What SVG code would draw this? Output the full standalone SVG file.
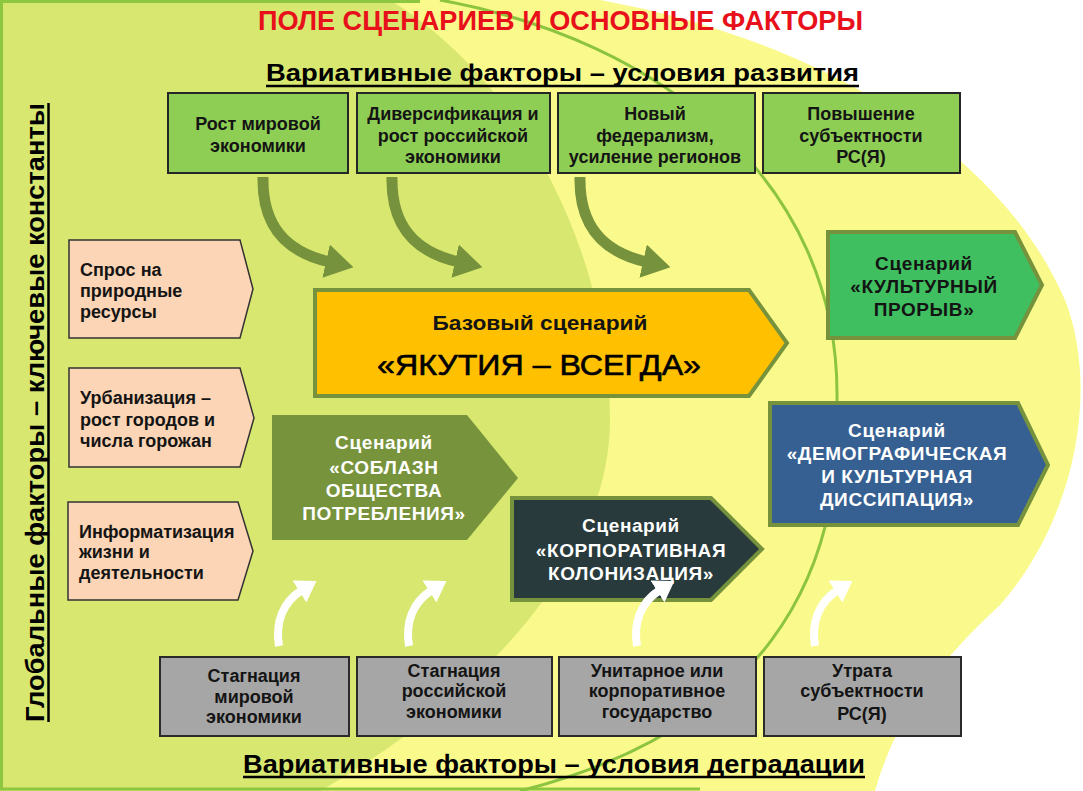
<svg xmlns="http://www.w3.org/2000/svg" width="1083" height="791" viewBox="0 0 1083 791">
<defs>
<style>
.t{font-family:"Liberation Sans",Arial,sans-serif;font-weight:bold}
.sm{font-size:18px;fill:#141414;text-anchor:middle}
.lf{font-size:18px;fill:#141414}
.sc{font-size:19px;text-anchor:middle;letter-spacing:0.6px}
.wt{fill:#ffffff}
.dk{fill:#141414}
.btop{fill:#8fce55;stroke:#262626;stroke-width:2}
.bleft{fill:#fbd5b5;stroke:#333333;stroke-width:1.5}
.bbot{fill:#a6a6a6;stroke:#2a2a2a;stroke-width:2}
.olv{stroke:#76923c;stroke-width:4}
.ul{stroke:#000;stroke-width:2.5}
.aol{fill:none;stroke:#76923c;stroke-width:11}
.awh{fill:none;stroke:#ffffff;stroke-width:8}
</style>
<marker id="ahO" markerUnits="userSpaceOnUse" viewBox="0 0 28 34" refX="4" refY="17" markerWidth="28" markerHeight="34" orient="auto"><path d="M0,0 L28,17 L0,34 Z" fill="#76923c"/></marker>
<marker id="ahW" markerUnits="userSpaceOnUse" viewBox="0 0 20 26" refX="3" refY="13" markerWidth="20" markerHeight="26" orient="auto"><path d="M0,0 L20,13 L0,26 Z" fill="#ffffff"/></marker>
</defs>

<g id="background">
<rect x="0" y="0" width="1083" height="791" fill="#ffffff"/>
<path d="M600 0 C820 40 1000 150 1065 300 C1100 390 1075 520 1000 605 C935 665 895 720 875 791 L0 791 L0 0 Z" fill="#fafa8c"/>
<path d="M0 0 L390 0 C520 80 610 250 610 420 C610 560 480 700 320 791 L0 791 Z" fill="#d7e770"/>
<path d="M420 1.5 L1.5 1.5 L1.5 789 L700 789" fill="none" stroke="#8dc63f" stroke-width="3"/>
<path d="M440 0 C660 40 840 180 837 400 C845 580 760 730 520 791" fill="none" stroke="#8cc43f" stroke-width="3"/>
</g>

<g id="titles">
<text class="t" x="258" y="30" font-size="27" fill="#e8101a" textLength="605" lengthAdjust="spacingAndGlyphs">ПОЛЕ СЦЕНАРИЕВ И ОСНОВНЫЕ ФАКТОРЫ</text>
<text class="t" x="266" y="81" font-size="23" fill="#000" textLength="593" lengthAdjust="spacingAndGlyphs">Вариативные факторы – условия развития</text>
<line class="ul" x1="266" y1="86" x2="859" y2="86"/>
<text class="t" x="243" y="773" font-size="25" fill="#000" textLength="622" lengthAdjust="spacingAndGlyphs">Вариативные факторы – условия деградации</text>
<line class="ul" x1="243" y1="777" x2="865" y2="777"/>
<text class="t" transform="translate(44,722) rotate(-90)" x="0" y="0" font-size="26" fill="#000" textLength="619" lengthAdjust="spacingAndGlyphs">Глобальные факторы – ключевые константы</text>
<line class="ul" x1="48.5" y1="103" x2="48.5" y2="722"/>
</g>

<g id="top1"><rect class="btop" x="168" y="93" width="180" height="80"/>
<text class="t sm" x="258" y="130">Рост мировой</text><text class="t sm" x="258" y="152">экономики</text></g>
<g id="top2"><rect class="btop" x="357" y="93" width="193" height="80"/>
<text class="t sm" x="453" y="120">Диверсификация и</text><text class="t sm" x="453" y="142">рост российской</text><text class="t sm" x="453" y="163">экономики</text></g>
<g id="top3"><rect class="btop" x="558" y="93" width="197" height="80"/>
<text class="t sm" x="655" y="120">Новый</text><text class="t sm" x="655" y="142">федерализм,</text><text class="t sm" x="655" y="163">усиление регионов</text></g>
<g id="top4"><rect class="btop" x="763" y="93" width="197" height="80"/>
<text class="t sm" x="861" y="120">Повышение</text><text class="t sm" x="861" y="142">субъектности</text><text class="t sm" x="861" y="163">РС(Я)</text></g>

<g id="left1"><polygon class="bleft" points="69,240 240,240 253,289 240,338 69,338"/>
<text class="t lf" x="80" y="276">Спрос на</text><text class="t lf" x="80" y="297">природные</text><text class="t lf" x="80" y="318">ресурсы</text></g>
<g id="left2"><polygon class="bleft" points="69,368 240,368 254,418 240,467 69,467"/>
<text class="t lf" x="80" y="404">Урбанизация –</text><text class="t lf" x="80" y="426">рост городов и</text><text class="t lf" x="80" y="447">числа горожан</text></g>
<g id="left3"><polygon class="bleft" points="68,502 238,502 253,551 238,600 68,600"/>
<text class="t lf" x="79" y="538">Информатизация</text><text class="t lf" x="79" y="558">жизни и</text><text class="t lf" x="79" y="579">деятельности</text></g>

<g id="base"><polygon class="olv" fill="#ffc000" points="315,290 749,290 787,343 749,396 315,396"/>
<text class="t" x="540" y="330" font-size="21" fill="#141414" text-anchor="middle" textLength="215" lengthAdjust="spacingAndGlyphs">Базовый сценарий</text>
<text x="539" y="375" font-family="Liberation Sans, Arial, sans-serif" font-size="29" fill="#000" stroke="#000" stroke-width="0.6" text-anchor="middle" textLength="324" lengthAdjust="spacingAndGlyphs">«ЯКУТИЯ – ВСЕГДА»</text></g>

<g id="soblazn"><polygon fill="#77933c" points="272,415 467,415 518,478 467,540 272,540"/>
<text class="t sc wt" x="384" y="449">Сценарий</text><text class="t sc wt" x="384" y="474">«СОБЛАЗН</text><text class="t sc wt" x="384" y="497">ОБЩЕСТВА</text><text class="t sc wt" x="384" y="520">ПОТРЕБЛЕНИЯ»</text></g>

<g id="corp"><polygon class="olv" fill="#283a3b" points="512,498 711,498 762,549 711,600 512,600"/>
<text class="t sc wt" x="631" y="532">Сценарий</text><text class="t sc wt" x="631" y="557">«КОРПОРАТИВНАЯ</text><text class="t sc wt" x="631" y="580">КОЛОНИЗАЦИЯ»</text></g>

<g id="culture"><polygon class="olv" fill="#3fbf5f" points="828,232 1015,232 1042,285 1015,338 828,338"/>
<text class="t sc dk" x="924" y="270">Сценарий</text><text class="t sc dk" x="924" y="293">«КУЛЬТУРНЫЙ</text><text class="t sc dk" x="924" y="316">ПРОРЫВ»</text></g>

<g id="demog"><polygon class="olv" fill="#366092" points="770,403 1018,403 1048,465 1018,525 770,525"/>
<text class="t sc wt" x="897" y="437">Сценарий</text><text class="t sc wt" x="897" y="460">«ДЕМОГРАФИЧЕСКАЯ</text><text class="t sc wt" x="897" y="483">И КУЛЬТУРНАЯ</text><text class="t sc wt" x="897" y="506">ДИССИПАЦИЯ»</text></g>

<g id="bot1"><rect class="bbot" x="160" y="657" width="189" height="79"/>
<text class="t sm" x="254" y="682">Стагнация</text><text class="t sm" x="254" y="703">мировой</text><text class="t sm" x="254" y="723">экономики</text></g>
<g id="bot2"><rect class="bbot" x="357" y="657" width="195" height="79"/>
<text class="t sm" x="454" y="677">Стагнация</text><text class="t sm" x="454" y="697">российской</text><text class="t sm" x="454" y="718">экономики</text></g>
<g id="bot3"><rect class="bbot" x="559" y="657" width="197" height="79"/>
<text class="t sm" x="657" y="677">Унитарное или</text><text class="t sm" x="657" y="697">корпоративное</text><text class="t sm" x="657" y="718">государство</text></g>
<g id="bot4"><rect class="bbot" x="764" y="657" width="197" height="79"/>
<text class="t sm" x="862" y="677">Утрата</text><text class="t sm" x="862" y="697">субъектности</text><text class="t sm" x="862" y="720">РС(Я)</text></g>

<g id="connectors">
<path class="aol" d="M263 177 C262 225 285 252 330 262" marker-end="url(#ahO)"/>
<path class="aol" d="M392 177 C391 225 414 252 459 262" marker-end="url(#ahO)"/>
<path class="aol" d="M580 177 C579 225 602 252 647 262" marker-end="url(#ahO)"/>
<path class="awh" d="M279 646 C275 622 283 602 302 590" marker-end="url(#ahW)"/>
<path class="awh" d="M409 646 C405 622 413 602 432 590" marker-end="url(#ahW)"/>
<path class="awh" d="M637 646 C633 622 641 602 660 590" marker-end="url(#ahW)"/>
<path class="awh" d="M815 646 C811 622 819 602 838 590" marker-end="url(#ahW)"/>
</g>
</svg>
